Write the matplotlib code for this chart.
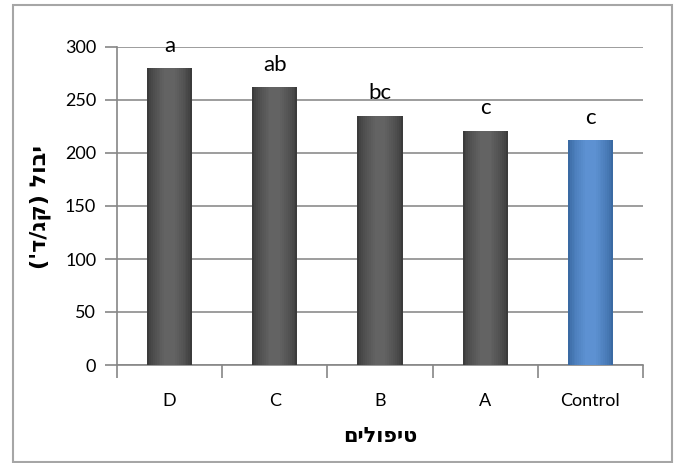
import matplotlib
matplotlib.use("Agg")
import matplotlib.pyplot as plt
import matplotlib.patches as patches
from matplotlib.colors import to_rgb
import numpy as np

# Daten
kategorien = ['D', 'C', 'B', 'A', 'Control']
ertrag = [280, 262, 235, 221, 212]
buchstaben = ['a', 'ab', 'bc', 'c', 'c']
yticks = [0, 50, 100, 150, 200, 250, 300]

# Hebräische Beschriftungen (in visueller Reihenfolge, da matplotlib kein RTL kann)
ylabel_text = "('ד/גק) לובי"
xlabel_text = "םילופיט"

plt.rcParams['font.family'] = ['Lato', 'DejaVu Sans']

fig = plt.figure(figsize=(6.77, 4.63), dpi=100)
ax = fig.add_axes([117 / 677, 98 / 463, 526 / 677, 318 / 463])

# Rahmen um das ganze Diagramm
fig.patches.append(patches.Rectangle((13 / 677, 1 / 463), 659 / 677, 457 / 463,
                                     transform=fig.transFigure, fill=False,
                                     edgecolor='#a6a6a6', linewidth=1.5))


def mischen(c1, c2, t):
    a, b = np.array(to_rgb(c1)), np.array(to_rgb(c2))
    return tuple(a + (b - a) * t)


x = np.arange(len(kategorien))
n = 10
breite = 0.43
for i in range(n):
    t = (i / (n - 1)) ** 0.7
    w = breite * (1 - 0.85 * i / n)
    farben = [mischen('#3b3b3b', '#636363', t) if k != 'Control' else mischen('#3a6aa3', '#5d91d2', t)
              for k in kategorien]
    ax.bar(x, ertrag, width=w, color=farben, zorder=3 + i / n)

for xi, val, txt in zip(x, ertrag, buchstaben):
    ax.annotate(txt, (xi, val), xytext=(0, 9), textcoords='offset points',
                ha='center', va='bottom', fontsize=16, color='black')

ax.set_xlim(-0.5, len(kategorien) - 0.5)
ax.set_ylim(0, 300)
ax.set_yticks(yticks)
ax.set_xticks(x)
ax.set_xticklabels(kategorien, fontsize=13)
ax.set_xticks(np.arange(-0.5, len(kategorien)), minor=True)
ax.tick_params(axis='x', which='major', length=0, pad=20)
ax.tick_params(axis='x', which='minor', length=9, color='#868686', width=1.2)
ax.tick_params(axis='y', length=9, color='#868686', width=1.2, labelsize=13, pad=6)

ax.grid(axis='y', color='#8c8c8c', linewidth=1.2, zorder=0)
for s in ['top', 'right']:
    ax.spines[s].set_visible(False)
for s in ['left', 'bottom']:
    ax.spines[s].set_color('#868686')
    ax.spines[s].set_linewidth(1.2)

fig.text(40 / 677, 1 - 207 / 463, ylabel_text, rotation=90, ha='center', va='center',
         fontsize=16, fontweight='bold', family='DejaVu Sans')
fig.text(380 / 677, 1 - 436 / 463, xlabel_text, ha='center', va='center',
         fontsize=15, fontweight='bold', family='DejaVu Sans')

fig.savefig("out.png", dpi=100)
